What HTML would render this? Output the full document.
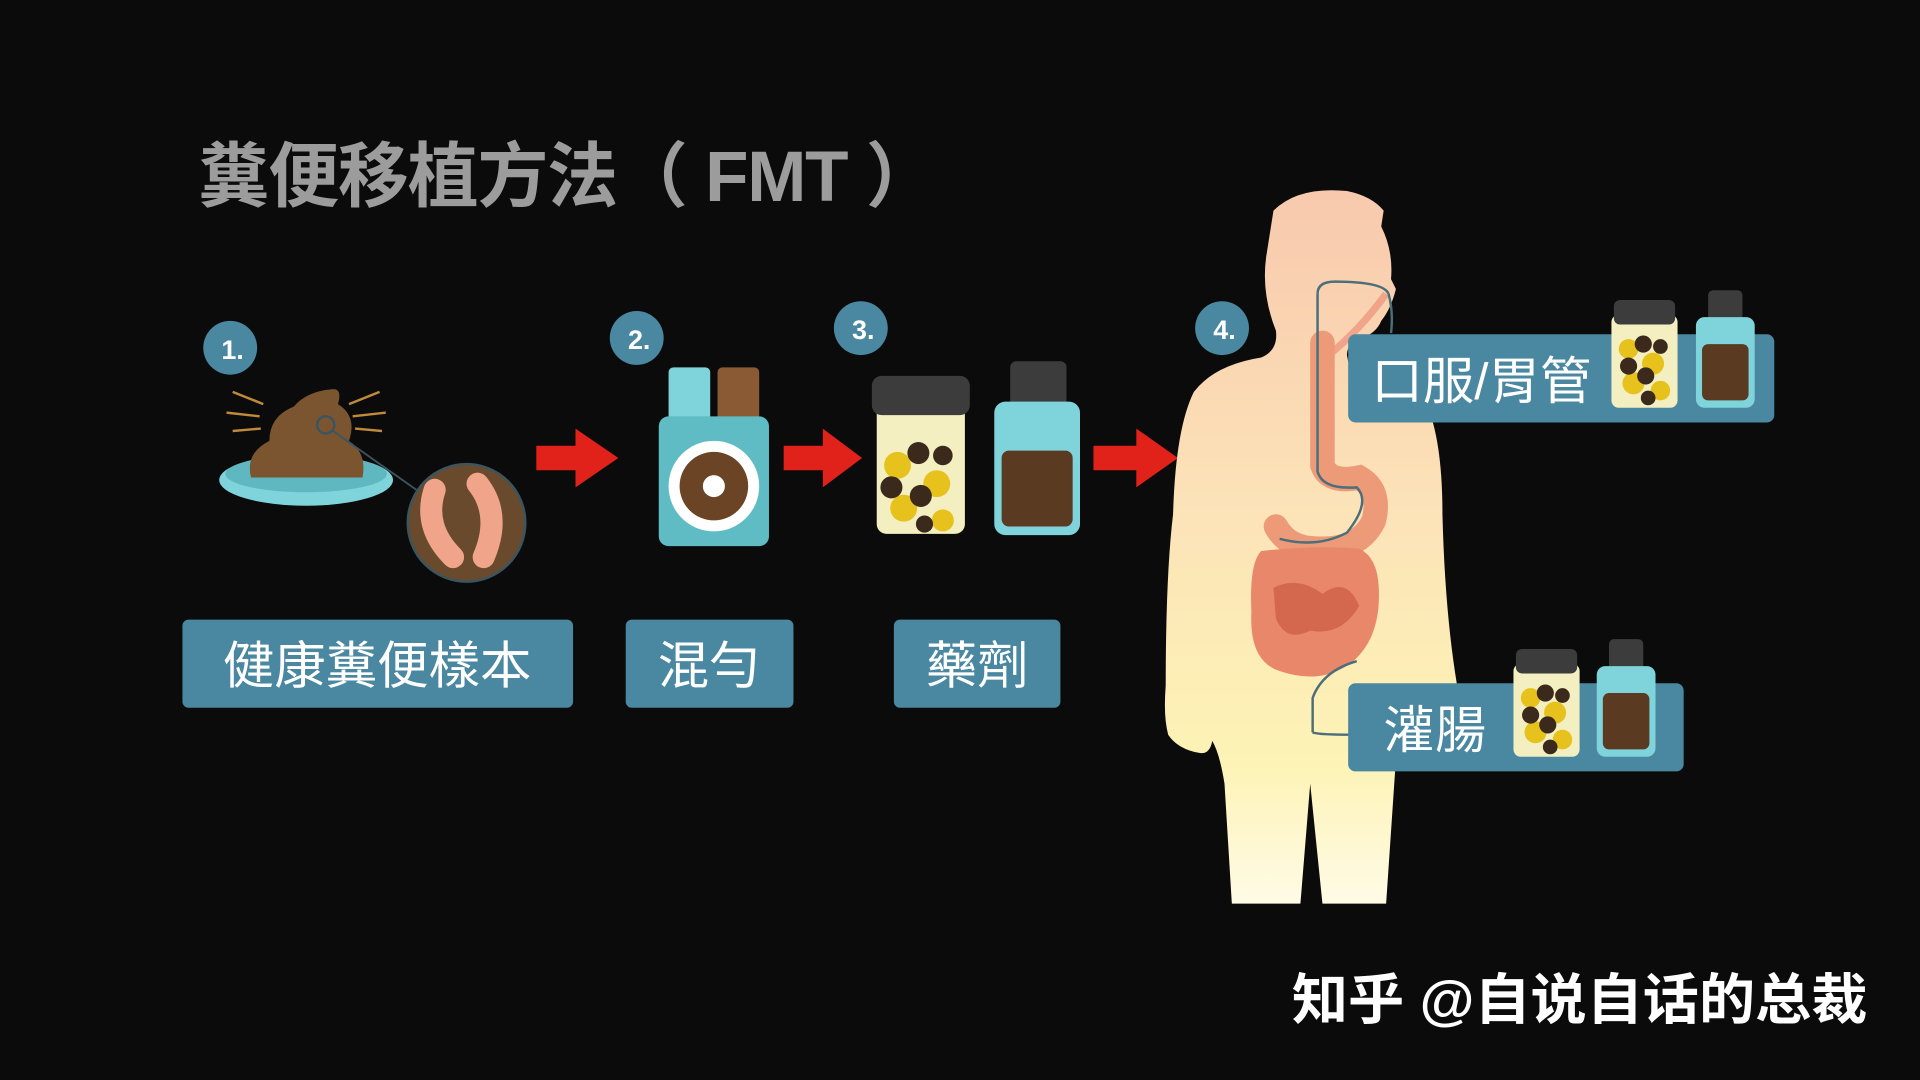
<!DOCTYPE html>
<html><head><meta charset="utf-8"><style>
html,body{margin:0;padding:0;background:#0b0b0b;width:1920px;height:1080px;overflow:hidden}
svg{display:block}
text{font-family:"Liberation Sans","Noto Sans CJK TC","Noto Sans CJK SC",sans-serif}
</style></head><body>
<svg width="1920" height="1080" viewBox="0 0 1568 882" xmlns="http://www.w3.org/2000/svg">
<defs>
<linearGradient id="bodyg" x1="0" y1="0" x2="0" y2="1">
<stop offset="0" stop-color="#f8c9ad"/><stop offset="0.45" stop-color="#fce3b8"/><stop offset="0.8" stop-color="#fdf3b5"/><stop offset="1" stop-color="#fffbe6"/>
</linearGradient>
<g id="jar">
<rect x="0" y="12" width="54" height="76" rx="6" fill="#f3efc0"/>
<rect x="2" y="0" width="50" height="20" rx="5" fill="#3c3c3c"/>
<g fill="#e8c21c"><circle cx="14" cy="40" r="8"/><circle cx="34" cy="52" r="9"/><circle cx="18" cy="68" r="9"/><circle cx="40" cy="74" r="8"/></g>
<g fill="#3b2a1c"><circle cx="26" cy="36" r="7"/><circle cx="40" cy="38" r="6"/><circle cx="14" cy="54" r="7"/><circle cx="28" cy="62" r="7"/><circle cx="30" cy="80" r="6"/></g>
</g>
<g id="bottle">
<rect x="10" y="0" width="28" height="26" rx="4" fill="#3c3c3c"/>
<rect x="0" y="22" width="48" height="74" rx="7" fill="#7fd3da"/>
<rect x="5" y="44" width="38" height="46" rx="5" fill="#5a3a20"/>
</g>
</defs>
<rect width="1568" height="882" fill="#0b0b0b"/>
<text x="162" y="164" font-size="58" font-weight="bold" fill="#9c9c9c" textLength="603" lengthAdjust="spacing">糞便移植方法（ FMT ）</text>

<!-- number circles -->
<g font-size="22" font-weight="bold" fill="#fff" text-anchor="middle">
<circle cx="188" cy="284" r="22" fill="#4a87a0"/><text x="190" y="293">1.</text>
<circle cx="520" cy="276" r="22" fill="#4a87a0"/><text x="522" y="285">2.</text>
<circle cx="703" cy="268" r="22" fill="#4a87a0"/><text x="705" y="277">3.</text>
<circle cx="998" cy="268" r="22" fill="#4a87a0"/><text x="1000" y="277">4.</text>
</g>

<!-- poop -->
<g stroke="#c08a3a" stroke-width="2">
<line x1="190" y1="320" x2="215" y2="330"/><line x1="185" y1="337" x2="212" y2="340"/><line x1="190" y1="352" x2="213" y2="350"/>
<line x1="310" y1="320" x2="285" y2="330"/><line x1="315" y1="337" x2="288" y2="340"/><line x1="312" y1="352" x2="290" y2="350"/>
</g>
<ellipse cx="250" cy="392" rx="71" ry="21" fill="#7fd3da"/>
<ellipse cx="250" cy="387" rx="66" ry="15" fill="#5fb7c0"/>
<path d="M205 390 Q200 370 220 360 Q220 340 240 332 Q250 320 270 318 Q280 316 276 330 Q292 340 285 360 Q300 370 296 390 Z" fill="#7a5530"/>
<circle cx="266" cy="347" r="7" fill="none" stroke="#3b5560" stroke-width="2"/>
<line x1="272" y1="352" x2="340" y2="400" stroke="#3b5560" stroke-width="1.5"/>
<circle cx="381" cy="427" r="48" fill="#6a4a2c" stroke="#3b5560" stroke-width="2"/>
<path d="M355 400 Q345 430 370 455 M390 395 Q410 420 395 455" stroke="#f0a58a" stroke-width="18" fill="none" stroke-linecap="round"/>

<!-- arrows -->
<g fill="#e0221a">
<path d="M438 364 H470 V350 L505 374 L470 398 V384 H438 Z"/>
<path d="M640 364 H672 V350 L704 374 L672 398 V384 H640 Z"/>
<path d="M893 364 H928 V350 L962 374 L928 398 V384 H893 Z"/>
</g>

<!-- mixer -->
<rect x="546" y="300" width="34" height="46" rx="4" fill="#7fd3da"/>
<rect x="586" y="300" width="34" height="46" rx="4" fill="#8a5a34"/>
<rect x="538" y="340" width="90" height="106" rx="8" fill="#5fbcc4"/>
<circle cx="583" cy="397" r="37" fill="#fff"/>
<circle cx="583" cy="397" r="28" fill="#6a4424"/>
<circle cx="583" cy="397" r="9" fill="#fff"/>

<!-- jar 3 -->
<rect x="716" y="330" width="72" height="106" rx="8" fill="#f3efc0"/>
<rect x="712" y="307" width="80" height="32" rx="8" fill="#3c3c3c"/>
<g fill="#e8c21c"><circle cx="733" cy="380" r="11"/><circle cx="765" cy="395" r="11"/><circle cx="738" cy="415" r="11"/><circle cx="770" cy="425" r="9"/></g>
<g fill="#3b2a1c"><circle cx="750" cy="370" r="9"/><circle cx="770" cy="372" r="8"/><circle cx="728" cy="398" r="9"/><circle cx="752" cy="405" r="9"/><circle cx="755" cy="428" r="7"/></g>
<!-- bottle 3 -->
<rect x="825" y="295" width="46" height="38" rx="5" fill="#3c3c3c"/>
<rect x="812" y="328" width="70" height="109" rx="9" fill="#7fd3da"/>
<rect x="818" y="368" width="58" height="62" rx="6" fill="#5a3a20"/>

<!-- labels -->
<g fill="#4a87a0">
<rect x="149" y="506" width="319" height="72" rx="5"/>
<rect x="511" y="506" width="137" height="72" rx="5"/>
<rect x="730" y="506" width="136" height="72" rx="5"/>
</g>
<g font-size="42" fill="#fff" text-anchor="middle">
<text x="308" y="558">健康糞便樣本</text>
<text x="579" y="558">混勻</text>
<text x="798" y="558">藥劑</text>
</g>

<!-- body -->
<path d="M1040 172 Q1060 152 1100 156 Q1120 160 1130 172 L1128 185 Q1138 205 1136 228 L1140 236 Q1136 252 1128 262 Q1124 272 1112 276 Q1100 280 1100 290 L1102 300 Q1140 305 1165 330 Q1178 360 1178 420 Q1180 500 1190 560 Q1192 600 1186 620 L1140 620 L1132 738 L1080 738 L1070 640 L1062 738 L1006 738 L1000 640 Q996 615 990 605 Q988 616 980 615 Q962 612 954 600 Q950 585 952 560 Q952 470 958 420 Q960 350 975 320 Q992 298 1030 292 Q1044 286 1042 270 Q1030 240 1034 210 Z" fill="url(#bodyg)"/>
<!-- digestive -->
<path d="M1085 290 Q1110 270 1132 240" stroke="#f0a58a" stroke-width="6" fill="none"/>
<path d="M1080 280 L1080 380 Q1085 395 1110 390 Q1128 400 1122 425 Q1110 450 1075 448 Q1052 448 1042 430" stroke="#ec9a78" stroke-width="20" fill="none" stroke-linecap="round"/>
<path d="M1030 450 Q1020 460 1022 500 Q1020 540 1045 548 Q1080 560 1105 540 Q1128 520 1126 480 Q1125 455 1110 448 Q1075 445 1030 450 Z" fill="#e8876a"/>
<path d="M1040 480 Q1060 470 1080 485 Q1100 470 1110 495 Q1095 520 1070 515 Q1050 525 1042 505 Z" fill="#d4684f"/>
<path d="M1076 240 Q1076 230 1090 230 Q1130 230 1134 240" stroke="#4a6e7a" stroke-width="2" fill="none"/>
<path d="M1076 240 L1076 385 Q1080 400 1108 398 Q1120 410 1100 435 Q1075 448 1045 440" stroke="#4a6e7a" stroke-width="2" fill="none"/>
<path d="M1134 240 Q1138 255 1136 272" stroke="#4a6e7a" stroke-width="2" fill="none"/>
<path d="M1072 598 L1072 570 Q1080 548 1108 540 M1072 598 Q1075 600 1104 600" stroke="#4a6e7a" stroke-width="2" fill="none"/>

<!-- right boxes -->
<rect x="1101" y="273" width="348" height="72" rx="6" fill="#4a87a0"/>
<text x="1120" y="326" font-size="42" fill="#fff">口服/胃管</text>
<use href="#jar" x="1316" y="245"/>
<use href="#bottle" x="1385" y="237"/>
<rect x="1101" y="558" width="274" height="72" rx="6" fill="#4a87a0"/>
<text x="1130" y="611" font-size="42" fill="#fff">灌腸</text>
<use href="#jar" x="1236" y="530"/>
<use href="#bottle" x="1304" y="522"/>

<text x="1055" y="832" font-size="45" font-weight="bold" fill="#fff" textLength="470" lengthAdjust="spacingAndGlyphs">知乎 @自说自话的总裁</text>
</svg>
</body></html>
